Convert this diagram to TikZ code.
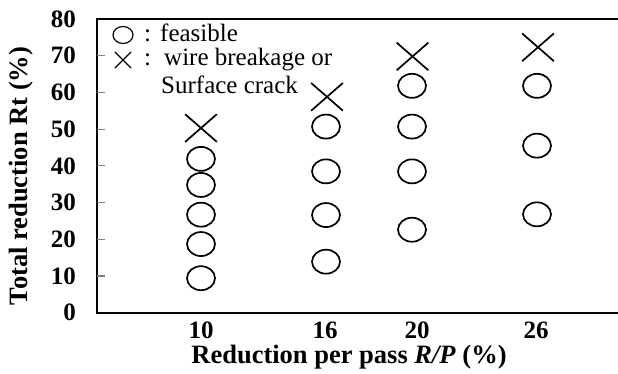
\documentclass[tikz,border=0pt]{standalone}
\usepackage{fontspec}
\setmainfont{Liberation Serif}
\usetikzlibrary{shapes.geometric,shapes.misc}

\tikzset{
  ok/.style={draw, ellipse, line width=1.7pt, minimum width=28pt, minimum height=24pt, inner sep=0pt},
  ng/.style={draw, cross out, line width=1.7pt, minimum width=30pt, minimum height=26pt, inner sep=0pt},
  ticklab/.style={inner sep=0pt, font=\fontsize{25}{30}\selectfont\bfseries},
  legtext/.style={anchor=base west, inner sep=0pt, font=\fontsize{25}{30}\selectfont},
  axtitle/.style={inner sep=0pt, font=\fontsize{26.5}{31}\selectfont\bfseries}
}

\begin{document}
\begin{tikzpicture}[x=1pt, y=-1pt]
  \useasboundingbox (0,0) rectangle (618,374);
  % frame and ticks
  \draw[line width=1.8pt] (618,19) -- (97,19) -- (97,312.7) -- (618,312.7);
  \foreach \v in {1,...,7}
    \draw[gray, line width=1.2pt] (97,{312.7-\v*36.71}) -- ++(8,0);
  \foreach \v [evaluate=\v as \t using int(10*\v)] in {0,...,8}
    \node[ticklab, anchor=east] (y\t) at (76,{312.7-\v*36.71}) {\t};
  \node[ticklab] (x10) at (201,330) {10};
  \node[ticklab] (x16) at (325,330) {16};
  \node[ticklab] (x20) at (417,330) {20};
  \node[ticklab] (x26) at (536,330) {26};
  \node[axtitle] (xtitle) at (349,357) {Reduction per pass \textit{R/P} (\%)};
  \node[axtitle, rotate=90] (ytitle) at (21,176) {Total reduction Rt (\%)};

  % legend
  \node[ok, minimum width=20pt, minimum height=17pt, line width=1.2pt] (legok) at (123,35) {};
  \node[ng, minimum width=15pt, minimum height=15pt, line width=1.2pt] (legng) at (123,60) {};
  \node[legtext] (col1) at (144,42) {:};
  \node[legtext] (feas) at (160,42) {feasible};
  \node[legtext] (col2) at (144,66) {:};
  \node[legtext] (brk) at (164,66) {wire breakage or};
  \node[legtext] (crk) at (161,94) {Surface crack};

  % data
  \begin{scope}[shift={(0,312.7)}, y=3.671pt]
    \foreach \v [count=\i] in {9.4,18.7,26.7,34.8,41.9}
      \node[ok] (a\i) at (201,\v) {};
    \node[ng] (ax) at (201,50.3) {};
    \foreach \v [count=\i] in {13.9,26.6,38.5,50.7}
      \node[ok] (b\i) at (326,\v) {};
    \node[ng] (bx) at (327,58.8) {};
    \foreach \v [count=\i] in {22.6,38.5,50.7,61.8}
      \node[ok] (c\i) at (412,\v) {};
    \node[ng] (cx) at (412.5,69.8) {};
    \foreach \v [count=\i] in {26.8,45.5,61.8}
      \node[ok] (d\i) at (537,\v) {};
    \node[ng] (dx) at (538,72.3) {};
  \end{scope}
\end{tikzpicture}
\end{document}
